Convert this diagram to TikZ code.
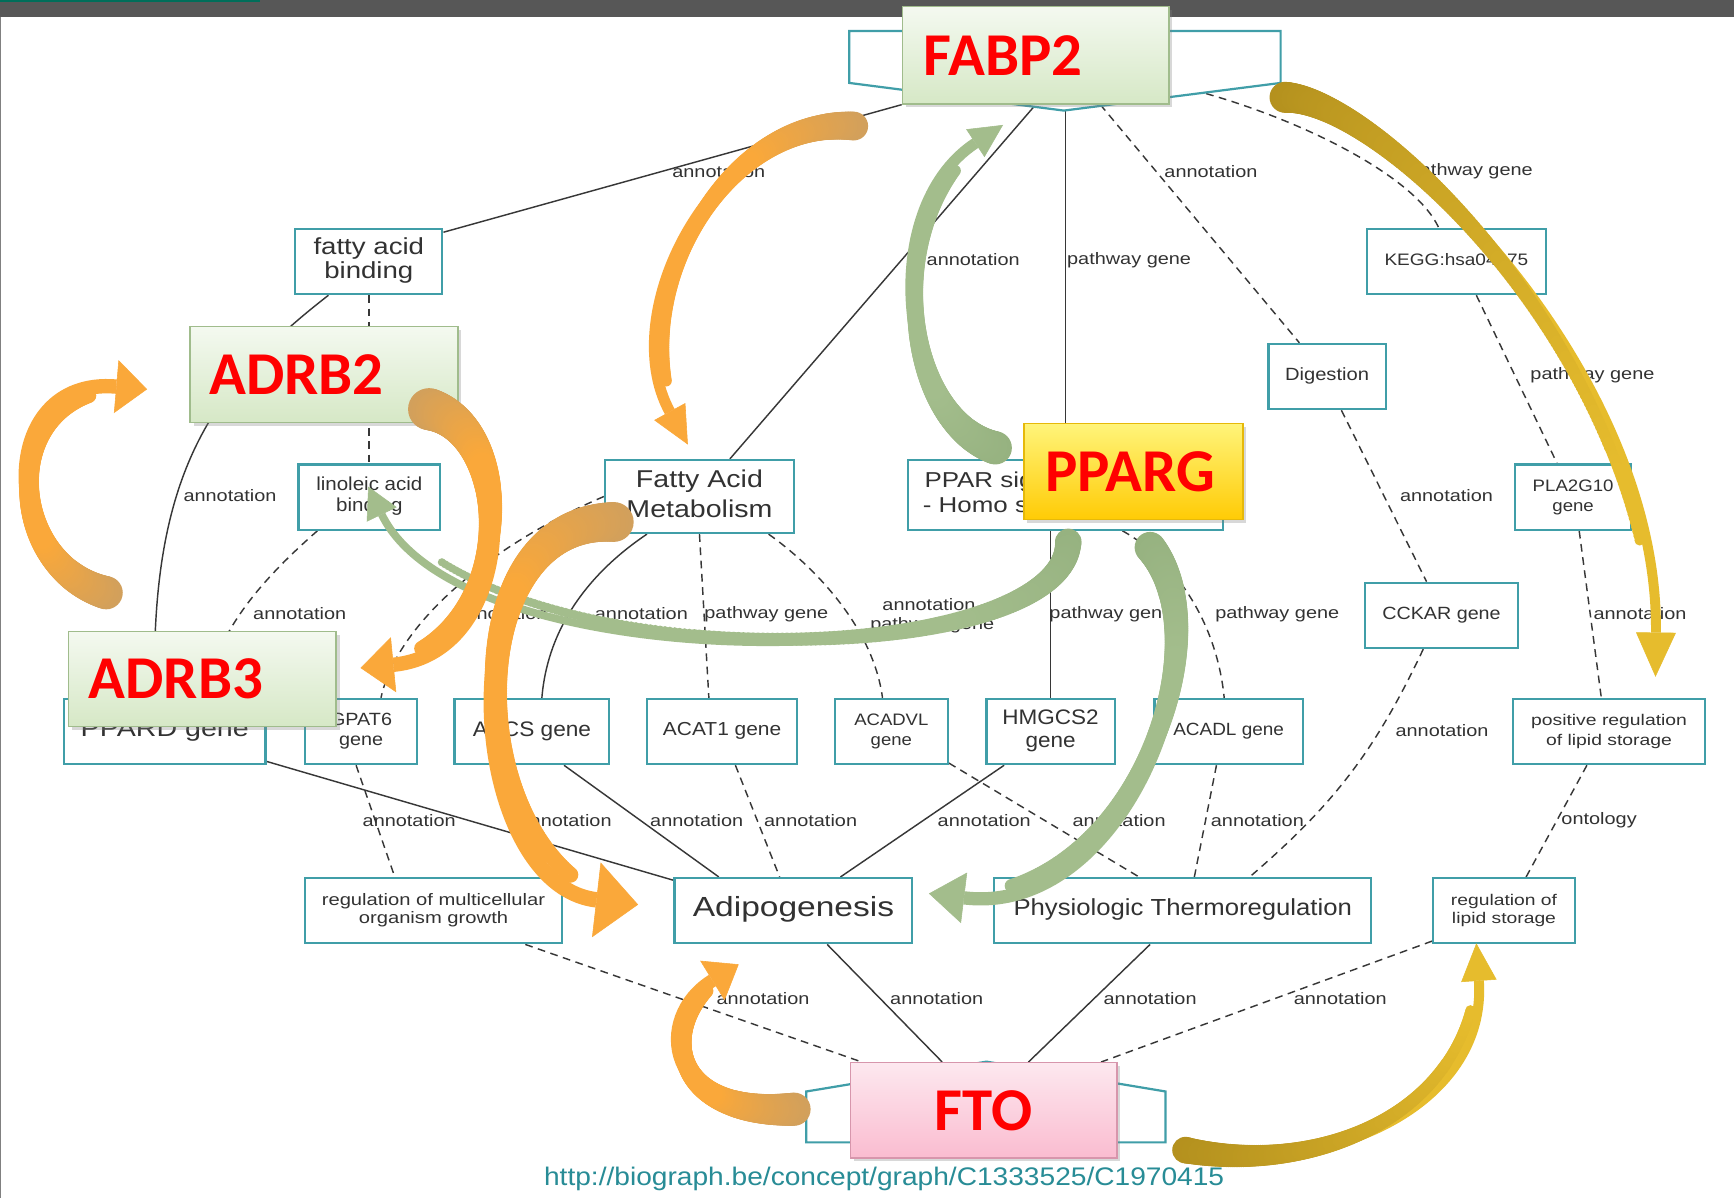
\documentclass[tikz,border=0pt]{standalone}
\usepackage{fontspec}
\usepackage{graphicx}
\setmainfont{Liberation Sans}
\newfontfamily\calib{Carlito}
\usetikzlibrary{arrows.meta,shadows,calc}
\pgfdeclarelayer{back}
\pgfdeclarelayer{bg}
\pgfdeclarelayer{front}
\pgfsetlayers{back,bg,main,front}
\definecolor{tealb}{RGB}{64,158,168}
\definecolor{txt}{RGB}{50,50,50}
\definecolor{edgec}{RGB}{55,55,55}
\definecolor{urlc}{RGB}{40,140,150}
\definecolor{gtop}{RGB}{244,249,240}
\definecolor{gbot}{RGB}{214,232,198}
\definecolor{gbord}{RGB}{160,188,140}
\definecolor{ytop}{RGB}{255,244,122}
\definecolor{ybot}{RGB}{255,203,5}
\definecolor{ybord}{RGB}{230,185,10}
\definecolor{ptop}{RGB}{253,232,239}
\definecolor{pbot}{RGB}{250,188,208}
\definecolor{pbord}{RGB}{215,150,172}
\definecolor{orng}{RGB}{250,168,58}
\definecolor{tanc}{RGB}{210,160,92}
\definecolor{grn}{RGB}{163,189,140}
\definecolor{grnd}{RGB}{150,178,128}
\definecolor{goldc}{RGB}{180,145,30}
\definecolor{yel}{RGB}{230,188,45}
\definecolor{barc}{RGB}{87,87,87}
\definecolor{barg}{RGB}{0,110,90}
\newcommand\fitw[2]{\resizebox{#1pt}{\height}{\begin{tabular}{@{}c@{}}#2\end{tabular}}}
\newcommand\an{\scalebox{1.2}[1]{annotation}}
\newcommand\pg{\scalebox{1.2}[1]{pathway gene}}
\def\rspd{350}
\newcommand\ribbon[9]{%
  \draw[draw=#8, line width=#6pt, -{Triangle[#9,line width=0.5pt]}] #1 .. controls #2 and #3 .. #4;
  \foreach \i in {0,...,170}{%
    \pgfmathsetmacro\rt{\i/200}%
    \pgfmathsetmacro\ww{#6+(#5-#6)*(1-\rt)^2}%
    \pgfmathtruncatemacro\cc{min(100,\rt*\rspd)}%
    \path #1 .. controls #2 and #3 .. #4 node[pos=\rt, circle, inner sep=0pt, minimum size=\ww pt, fill=#8!\cc!#7]{};
  }%
}
\begin{document}
\begin{tikzpicture}[x=1pt,y=-1pt,
  tbox/.style={draw=tealb, line width=2pt, fill=white, inner sep=0pt, text=txt},
  ed/.style={draw=edgec, line width=1.3pt},
  dsh/.style={ed, dash pattern=on 7pt off 5pt},
  elab/.style={font=\fontsize{15}{17}\selectfont, text=txt, inner sep=0pt},
  ovbox/.style={line width=1.3pt, inner sep=0pt, drop shadow={opacity=0.3, shadow xshift=3pt, shadow yshift=-3pt}},
  gov/.style={ovbox, draw=gbord, top color=gtop, bottom color=gbot},
  yov/.style={ovbox, draw=ybord, top color=ytop, bottom color=ybot},
  pov/.style={ovbox, draw=pbord, top color=ptop, bottom color=pbot},
  ovt/.style={font=\calib\bfseries\fontsize{55}{60}\selectfont, text=red, inner sep=0pt, anchor=base west}]
\useasboundingbox (0,0) rectangle (1568,1083);
\begin{pgfonlayer}{back}
\fill[white] (0,0) rectangle (1568,1083);
\fill[barc] (0,0) rectangle (1568,15);
\fill[barg] (0,0) rectangle (235,2);
\draw[gray, line width=1pt] (0.5,15) -- (0.5,1083);
\end{pgfonlayer}

% ---------- graph boxes
\node[tbox, minimum width=133pt, minimum height=59pt, font=\fontsize{21}{22.5}\selectfont] (fab) at (333.5,236.5) {\fitw{100}{fatty acid\\binding}};
\node[tbox, minimum width=128pt, minimum height=59pt, font=\fontsize{17}{19}\selectfont] (lin) at (334,449.5) {\fitw{96}{linoleic acid\\binding}};
\node[tbox, minimum width=171pt, minimum height=66pt, font=\fontsize{22}{27}\selectfont] (fam) at (632.5,449) {\fitw{132}{Fatty Acid\\Metabolism}};
\node[tbox, minimum width=285pt, minimum height=63pt, font=\fontsize{19.5}{23}\selectfont] (ppar) at (963.5,447.5) {\fitw{258}{PPAR signaling pathway\\- Homo sapiens (human)}};
\node[tbox, minimum width=106pt, minimum height=59pt, font=\fontsize{16}{18}\selectfont] (dig) at (1200,340.5) {\fitw{76}{Digestion}};
\node[tbox, minimum width=162pt, minimum height=59pt, font=\fontsize{15}{17}\selectfont] (kegg) at (1317,236.5) {\fitw{130}{KEGG:hsa04975}};
\node[tbox, minimum width=105pt, minimum height=59pt, font=\fontsize{15}{18}\selectfont] (pla) at (1422.5,449.5) {\fitw{73}{PLA2G10\\gene}};
\node[tbox, minimum width=139pt, minimum height=59pt, font=\fontsize{16}{18}\selectfont] (cck) at (1303.5,556.5) {\fitw{107}{CCKAR gene}};
\node[tbox, minimum width=182pt, minimum height=59pt, font=\fontsize{21}{24}\selectfont] (ppard) at (149,661.5) {\fitw{152}{PPARD gene}};
\node[tbox, minimum width=101pt, minimum height=59pt, font=\fontsize{16}{18}\selectfont] (gpat) at (326.5,661.5) {\fitw{56}{GPAT6\\gene}};
\node[tbox, minimum width=140pt, minimum height=59pt, font=\fontsize{19}{21}\selectfont] (aacs) at (481,661.5) {\fitw{107}{AACS gene}};
\node[tbox, minimum width=136pt, minimum height=59pt, font=\fontsize{17}{19}\selectfont] (acat) at (653,661.5) {\fitw{107}{ACAT1 gene}};
\node[tbox, minimum width=102pt, minimum height=59pt, font=\fontsize{15}{17.5}\selectfont] (acadvl) at (806,661.5) {\fitw{67}{ACADVL\\gene}};
\node[tbox, minimum width=116pt, minimum height=59pt, font=\fontsize{19}{20.5}\selectfont] (hmg) at (950,661.5) {\fitw{87}{HMGCS2\\gene}};
\node[tbox, minimum width=134pt, minimum height=59pt, font=\fontsize{16}{18}\selectfont] (acadl) at (1111,661.5) {\fitw{100}{ACADL gene}};
\node[tbox, minimum width=174pt, minimum height=59pt, font=\fontsize{14}{18}\selectfont] (posreg) at (1455,661.5) {\fitw{141}{positive regulation\\of lipid storage}};
\node[tbox, minimum width=232pt, minimum height=59pt, font=\fontsize{15}{17}\selectfont] (regmc) at (392,823.5) {\fitw{202}{regulation of multicellular\\organism growth}};
\node[tbox, minimum width=215pt, minimum height=59pt, font=\fontsize{25}{28}\selectfont] (adipo) at (717.5,823.5) {\fitw{182}{Adipogenesis}};
\node[tbox, minimum width=341pt, minimum height=59pt, font=\fontsize{21}{24}\selectfont] (thermo) at (1069.5,823.5) {\fitw{306}{Physiologic Thermoregulation}};
\node[tbox, minimum width=128pt, minimum height=59pt, font=\fontsize{14}{17}\selectfont] (reglip) at (1360,823.5) {\fitw{96}{regulation of\\lipid storage}};

% ---------- concept shapes behind the gene labels
\draw[tealb, line width=2pt, fill=white] (768,28) -- (1158,28) -- (1158,75) -- (962,100) -- (768,75) -- cycle;
\draw[tealb, line width=2pt, fill=white] (729,1033) -- (729,987) -- (892,960) -- (1054,987) -- (1054,1033) -- cycle;

% ---------- overlay boxes
\node[gov, minimum width=241pt, minimum height=88pt] (FABP2) at (936.5,50) {};
\node[ovt] (FABP2t) at (835,68.5) {FABP2};
\node[gov, minimum width=242pt, minimum height=87pt] (ADRB2) at (293,338.5) {};
\node[ovt] (ADRB2t) at (189,357) {ADRB2};
\node[gov, minimum width=242pt, minimum height=86pt] (ADRB3) at (183,614) {};
\node[ovt] (ADRB3t) at (80,632) {ADRB3};
\node[yov, minimum width=198pt, minimum height=87pt] (PPARG) at (1025,426.5) {};
\node[ovt] (PPARGt) at (945,444) {PPARG};
\node[pov, minimum width=241pt, minimum height=86pt] (FTO) at (889.5,1004) {};
\node[ovt] (FTOt) at (845,1022) {FTO};

\node[font=\fontsize{23}{25}\selectfont, text=urlc, inner sep=0pt] (url) at (799.5,1065.6) {\resizebox{615pt}{\height}{http://biograph.be/concept/graph/C1333525/C1970415}};

% ---------- edges
\begin{pgfonlayer}{bg}
\draw[ed] (FABP2.south west) -- ([yshift=-4pt]fab.north east);
\draw[ed] (FABP2.south) -- ([xshift=27.5pt]fam.north);
\draw[ed] (FABP2.south -| ppar.north) -- (ppar.north);
\draw[dsh] ([xshift=58.5pt]FABP2.south) -- ([xshift=-25pt]dig.north);
\draw[dsh] ([shift={(33pt,10pt)}]FABP2.south east) .. controls (1180,110) and (1280,160) .. ([xshift=-16pt]kegg.north);
\draw[dsh] ([xshift=18pt]kegg.south) -- ([xshift=-14.5pt]pla.north);
\draw[dsh] ([xshift=13pt]dig.south) -- ([xshift=-13.5pt]cck.north);
\draw[dsh] ([xshift=5.5pt]pla.south) -- ([xshift=-7pt]posreg.north);
\draw[dsh] ([xshift=-16.5pt]cck.south) to[bend left=12] ([xshift=60.5pt]thermo.north);
\draw[dsh] ([xshift=-20pt]posreg.south) -- ([xshift=20pt]reglip.north);
\draw[ed] ([xshift=-36.5pt]fab.south) .. controls (190,350) and (135,430) .. ([xshift=-9pt]ppard.north);
\draw[dsh] (fab.south) -- (fab.south |- lin.north);
\draw[dsh] ([xshift=-47pt]lin.south) .. controls (230,530) and (195,575) .. ([xshift=36pt]ppard.north);
\draw[dsh] (fam.west) .. controls (450,490) and (360,560) .. ([xshift=18pt]gpat.north);
\draw[ed] ([xshift=-47.5pt]fam.south) .. controls (530,520) and (495,570) .. ([xshift=9pt]aacs.north);
\draw[dsh] (fam.south) -- ([xshift=-12pt]acat.north);
\draw[dsh] ([xshift=62.5pt]fam.south) .. controls (740,515) and (790,570) .. ([xshift=-8pt]acadvl.north);
\draw[ed] (ppar.south -| hmg.north) -- (hmg.north);
\draw[dsh] ([xshift=51.5pt]ppar.south) .. controls (1060,505) and (1100,560) .. ([xshift=-4pt]acadl.north);
\draw[ed] ([yshift=3.5pt]ppard.south east) -- ([yshift=-3pt]adipo.north west);
\draw[dsh] ([xshift=-4.5pt]gpat.south) -- ([xshift=-35pt]regmc.north);
\draw[ed] ([xshift=29pt]aacs.south) -- ([xshift=-67.5pt]adipo.north);
\draw[dsh] ([xshift=12pt]acat.south) -- ([xshift=-12.5pt]adipo.north);
\draw[ed] ([xshift=-42pt]hmg.south) -- ([xshift=42.5pt]adipo.north);
\draw[dsh] ([yshift=2pt]acadvl.south east) -- ([xshift=-39.5pt]thermo.north);
\draw[dsh] ([xshift=-11pt]acadl.south) -- ([xshift=10.5pt]thermo.north);
\draw[dsh] ([xshift=83pt]regmc.south) -- ([xshift=11pt]FTO.north west);
\draw[ed] ([xshift=30.5pt]adipo.south) -- ([xshift=-37.5pt]FTO.north);
\draw[ed] ([xshift=-29.5pt]thermo.south) -- ([xshift=40.5pt]FTO.north);
\draw[dsh] ([yshift=3pt]reglip.south west) -- ([xshift=-15pt]FTO.north east);
% edge labels
\node[elab] (l1) at (650,155) {\an};
\node[elab] (l2) at (880,235) {\an};
\node[elab] (l3) at (1021,235) {\pg};
\node[elab] (l4) at (1095,155) {\an};
\node[elab] (l5) at (1330,155) {\pg};
\node[elab] (l6) at (1440,339) {\pg};
\node[elab] (l7) at (208,448) {\an};
\node[elab] (l8) at (1308,448) {\an};
\node[elab] (l9) at (271,555) {\an};
\node[elab] (l10) at (453,555) {\an};
\node[elab] (l11) at (580,555) {\an};
\node[elab] (l12) at (693,555) {\pg};
\node[elab] (l13) at (840,547) {\an};
\node[elab] (l14) at (843,565) {\pg};
\node[elab] (l15) at (1005,555) {\pg};
\node[elab] (l16) at (1155,555) {\pg};
\node[elab] (l17) at (1483,555) {\an};
\node[elab] (l18) at (1304,661) {\an};
\node[elab] (l19) at (370,742) {\an};
\node[elab] (l20) at (511,742) {\an};
\node[elab] (l21) at (630,742) {\an};
\node[elab] (l22) at (733,742) {\an};
\node[elab] (l23) at (890,742) {\an};
\node[elab] (l24) at (1012,742) {\an};
\node[elab] (l25) at (1137,742) {\an};
\node[elab] (l26) at (1446,742) {\scalebox{1.2}[1]{ontology}};
\node[elab] (l27) at (690,903) {\an};
\node[elab] (l28) at (847,903) {\an};
\node[elab] (l29) at (1040,903) {\an};
\node[elab] (l30) at (1212,903) {\an};
\end{pgfonlayer}

% ---------- callout arrows
\begin{pgfonlayer}{front}
\def\rspd{350}
\ribbon{(772,114)}{(650,105)}{(555,280)}{(622,402)}{26}{10}{tanc}{orng}{width=32pt,length=34pt}
\ribbon{(900,405)}{(815,380)}{(790,190)}{(907,113)}{30}{10}{grnd}{grn}{width=30pt,length=30pt}
\ribbon{(966,490)}{(963,610)}{(420,620)}{(333,440)}{24}{7}{grnd}{grn}{width=30pt,length=28pt}
\ribbon{(1040,495)}{(1110,580)}{(1020,830)}{(840,808)}{28}{12}{grnd}{grn}{width=46pt,length=32pt}
\ribbon{(388,370)}{(470,390)}{(470,590)}{(326,604)}{38}{13}{tanc}{orng}{width=50pt,length=30pt}
\ribbon{(555,472)}{(400,470)}{(420,800)}{(577,818)}{36}{14}{tanc}{orng}{width=68pt,length=38pt}
\ribbon{(96,536)}{(0,510)}{(-5,340)}{(133,352)}{30}{13}{tanc}{orng}{width=48pt,length=28pt}
\ribbon{(718,1003)}{(600,1010)}{(590,920)}{(668,872)}{30}{12}{tanc}{orng}{width=42pt,length=28pt}
\def\rspd{130}
\ribbon{(1162,88)}{(1250,90)}{(1500,330)}{(1497,612)}{28}{9}{goldc}{yel}{width=36pt,length=40pt}
\def\rspd{120}
\ribbon{(1072,1040)}{(1200,1065)}{(1345,1000)}{(1335,853)}{24}{9}{goldc}{yel}{width=32pt,length=34pt}
\end{pgfonlayer}
\end{tikzpicture}
\end{document}
